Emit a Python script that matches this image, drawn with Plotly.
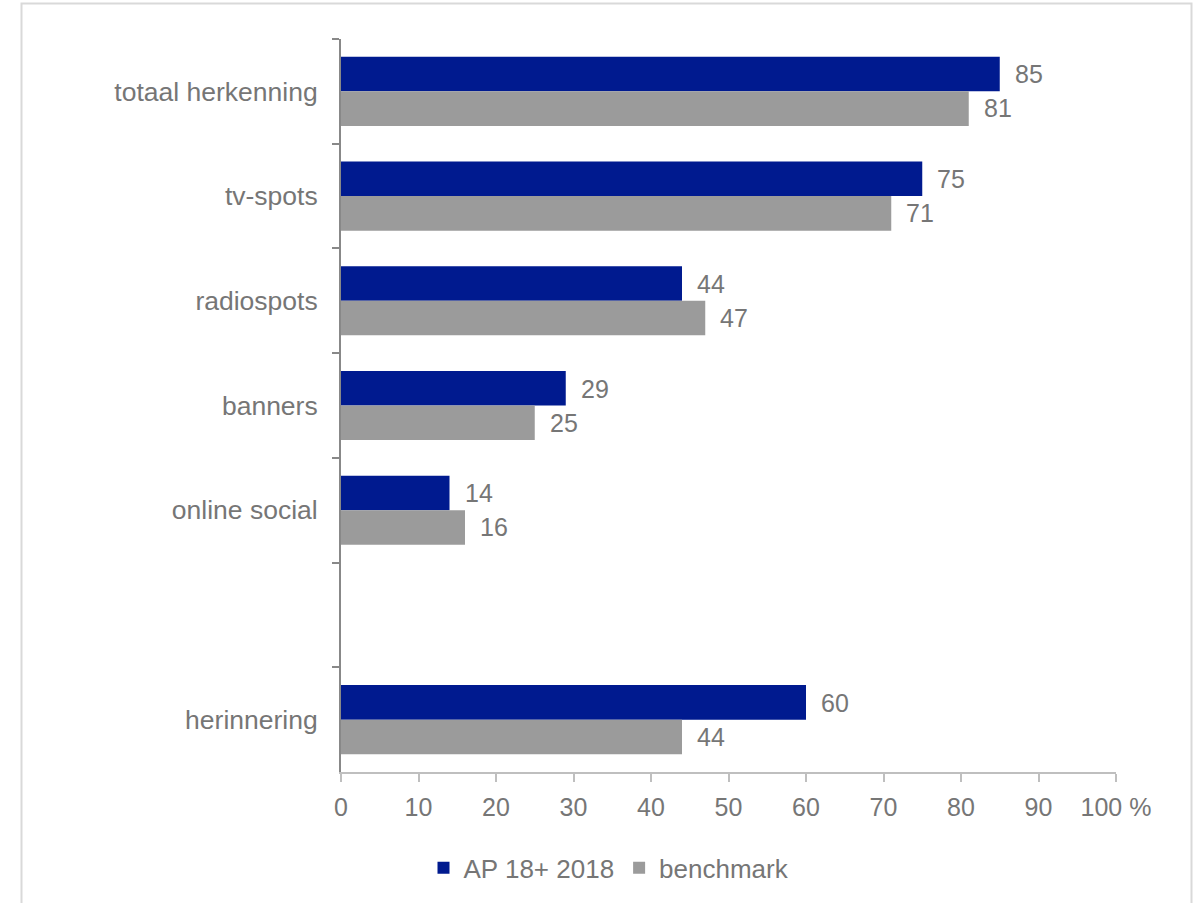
import plotly.graph_objects as go

# Categories top to bottom; the blank entry leaves an empty row before "herinnering"
categories = ["totaal herkenning", "tv-spots", "radiospots", "banners", "online social", " ", "herinnering"]
ap_2018 = [85, 75, 44, 29, 14, None, 60]
benchmark = [81, 71, 47, 25, 16, None, 44]
x_ticks = [0, 10, 20, 30, 40, 50, 60, 70, 80, 90, 100]
x_tick_text = ["0", "10", "20", "30", "40", "50", "60", "70", "80", "90", "100 %"]

BLUE = "#001a8f"
GREY = "#9b9b9b"
TEXT = "#767676"
FONT = "Liberation Sans, Arial, sans-serif"
NUM_SIZE = 25
LABEL_SIZE = 26.5

fig = go.Figure()
fig.add_trace(go.Bar(y=categories, x=ap_2018, orientation="h", name="AP 18+ 2018",
                     marker=dict(color=BLUE, line=dict(width=0))))
fig.add_trace(go.Bar(y=categories, x=benchmark, orientation="h", name="benchmark",
                     marker=dict(color=GREY, line=dict(width=0))))

# Value labels to the right of each bar
for cat, a, b in zip(categories, ap_2018, benchmark):
    if a is not None:
        fig.add_annotation(x=a, y=cat, text=str(a), xanchor="left", yanchor="middle",
                           xshift=13, yshift=17, showarrow=False,
                           font=dict(size=NUM_SIZE, color=TEXT, family=FONT))
    if b is not None:
        fig.add_annotation(x=b, y=cat, text=str(b), xanchor="left", yanchor="middle",
                           xshift=13, yshift=-17, showarrow=False,
                           font=dict(size=NUM_SIZE, color=TEXT, family=FONT))

# Light frame around the whole chart
L, R, T, B = 341, 1116, 39, 774
pw, ph = R - L, B - T
fig.add_shape(type="rect", xref="paper", yref="paper",
              x0=(21.5 - L) / pw, x1=(1191.5 - L) / pw,
              y0=(B - 930) / ph, y1=(B - 3.5) / ph,
              line=dict(color="#d9d9d9", width=2), fillcolor="rgba(0,0,0,0)", layer="below")

fig.update_layout(
    width=1198, height=903,
    margin=dict(l=L, r=1198 - R, t=T, b=903 - B),
    paper_bgcolor="white", plot_bgcolor="white",
    barmode="group", bargap=0.34, bargroupgap=0,
    font=dict(family=FONT, size=NUM_SIZE, color=TEXT),
    showlegend=True,
    legend=dict(orientation="h", x=(609 - L) / pw, xanchor="center",
                y=(B - 870) / ph, yanchor="middle",
                font=dict(size=26, color=TEXT, family=FONT),
                itemwidth=30, traceorder="normal"),
)
fig.update_xaxes(range=[0, 100], tickvals=x_ticks, ticktext=x_tick_text,
                 showgrid=False, zeroline=False,
                 showline=True, linecolor="#bfbfbf", linewidth=1.5,
                 ticks="outside", ticklen=8, tickcolor="#bfbfbf", tickwidth=1.5,
                 ticklabelstandoff=4,
                 tickfont=dict(size=NUM_SIZE, color=TEXT, family=FONT))
fig.update_yaxes(type="category", categoryorder="array", categoryarray=categories,
                 range=[6.5, -0.5], tickson="boundaries",
                 showgrid=False, zeroline=False,
                 showline=True, linecolor="#888888", linewidth=2,
                 ticks="outside", ticklen=7, tickcolor="#888888", tickwidth=1.5,
                 ticklabelstandoff=16,
                 tickfont=dict(size=LABEL_SIZE, color=TEXT, family=FONT))

fig.write_html("out.html")
